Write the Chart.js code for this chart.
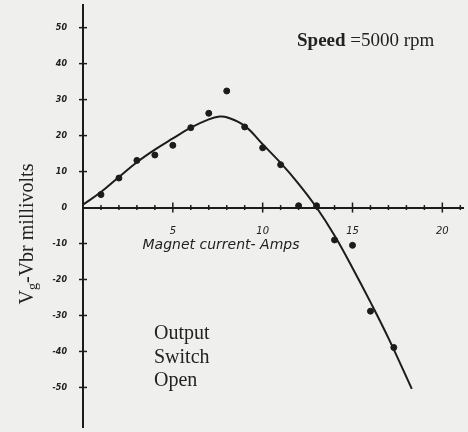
<!DOCTYPE html>
<html>
<head>
<meta charset="utf-8">
<script src="https://cdn.jsdelivr.net/npm/chart.js@4/dist/chart.umd.min.js"></script>
<style>
  html, body { margin: 0; padding: 0; background: #efefed; }
  #wrap { width: 468px; height: 432px; }
</style>
</head>
<body>
<div id="wrap"><canvas id="chart" width="468" height="432"></canvas></div>
<script>
// measured points (magnet current in amps, Vg - Vbr in millivolts)
const pointAmps = [1, 2, 3, 4, 5, 6, 7, 8, 9, 10, 11, 12, 13, 14, 15, 16, 17.3];
const pointMv = [3.6, 8.2, 13.1, 14.6, 17.3, 22.2, 26.2, 32.4, 22.4, 16.6, 11.9, 0.5, 0.5, -9, -10.5, -28.8, -38.9];

// hand drawn fitted curve
const curveAmps = [0, 1, 2, 3, 4, 5, 6, 7, 7.6, 8, 9, 10, 11, 12, 13, 14, 15, 16, 17, 18.3];
const curveMv = [0.8, 4.3, 8.5, 12.6, 16.1, 19.2, 22.2, 24.5, 25.3, 25.1, 22.7, 17.6, 12.4, 6.6, 0, -7.8, -16.8, -26.3, -36.3, -50.4];

// y tick values that carry a mark and a label
const yTickValues = [-50, -40, -30, -20, -10, 0, 10, 20, 30, 40, 50];

const xMin = 0, xMax = 21.15;
const yMin = -61, yMax = 56.3;
const ink = '#1c1c1c';

const toXY = (xs, ys) => xs.map((x, i) => ({ x: x, y: ys[i] }));

const paperAndNotes = {
  id: 'paperAndNotes',
  beforeDraw(chart) {
    const ctx = chart.ctx;
    ctx.save();
    ctx.fillStyle = '#efefed';
    ctx.fillRect(0, 0, chart.width, chart.height);
    ctx.restore();
  },
  afterDraw(chart) {
    const ctx = chart.ctx;
    const xs = chart.scales.x, ys = chart.scales.y;
    const x0 = xs.getPixelForValue(0);
    const y0 = ys.getPixelForValue(0);
    ctx.save();
    ctx.strokeStyle = ink;
    ctx.lineWidth = 1.5;
    // crossing tick marks on the y axis
    ys.ticks.forEach(t => {
      if (t.value === 0) return;
      const py = ys.getPixelForValue(t.value);
      ctx.beginPath();
      ctx.moveTo(x0 - 4, py);
      ctx.lineTo(x0 + 4, py);
      ctx.stroke();
    });
    // crossing tick marks on the x axis
    xs.ticks.forEach(t => {
      if (t.value === 0) return;
      const px = xs.getPixelForValue(t.value);
      const len = t.value % 5 === 0 ? 5 : 2.5;
      ctx.beginPath();
      ctx.moveTo(px, y0 - len);
      ctx.lineTo(px, y0 + len);
      ctx.stroke();
    });

    ctx.fillStyle = '#222';
    ctx.textBaseline = 'alphabetic';
    // speed note
    ctx.textAlign = 'left';
    ctx.font = 'bold 19px "Liberation Serif"';
    ctx.fillText('Speed', 297, 46);
    const w1 = ctx.measureText('Speed').width;
    ctx.font = '19px "Liberation Serif"';
    ctx.fillText(' =5000 rpm', 297 + w1, 46);

    // switch note
    ctx.font = '20px "Liberation Serif"';
    ctx.fillText('Output', 154, 339);
    ctx.fillText('Switch', 154, 363);
    ctx.fillText('Open', 154, 386);

    // x axis title, written under the axis
    ctx.textAlign = 'center';
    ctx.font = 'italic 14px "DejaVu Sans"';
    ctx.fillText('Magnet current- Amps', 221, 249);

    // y axis title with subscript g
    ctx.translate(33, 234);
    ctx.rotate(-Math.PI / 2);
    ctx.textAlign = 'left';
    const big = '20px "Liberation Serif"', small = '14px "Liberation Serif"';
    ctx.font = big;
    const wV = ctx.measureText('V').width;
    const rest = '-Vbr millivolts';
    const wR = ctx.measureText(rest).width;
    ctx.font = small;
    const wg = ctx.measureText('g').width;
    let sx = -(wV + wg + wR) / 2;
    ctx.font = big;
    ctx.fillText('V', sx, 0);
    sx += wV;
    ctx.font = small;
    ctx.fillText('g', sx, 4);
    sx += wg;
    ctx.font = big;
    ctx.fillText(rest, sx, 0);
    ctx.restore();
  }
};

new Chart(document.getElementById('chart'), {
  type: 'scatter',
  data: {
    datasets: [
      {
        type: 'line',
        label: 'curve',
        data: toXY(curveAmps, curveMv),
        borderColor: ink,
        borderWidth: 2,
        pointRadius: 0,
        tension: 0.4,
        fill: false
      },
      {
        label: 'measured',
        data: toXY(pointAmps, pointMv),
        backgroundColor: ink,
        borderColor: ink,
        pointRadius: 3
      }
    ]
  },
  plugins: [paperAndNotes],
  options: {
    responsive: false,
    animation: false,
    layout: { padding: { top: 5, left: 0, right: 0, bottom: 0 } },
    plugins: {
      legend: { display: false },
      tooltip: { enabled: false }
    },
    scales: {
      x: {
        type: 'linear',
        position: { y: 0 },
        min: xMin,
        max: xMax,
        grid: { display: false },
        border: { display: true, color: ink, width: 2 },
        ticks: {
          stepSize: 1,
          includeBounds: false,
          autoSkip: false,
          maxRotation: 0,
          padding: 10,
          color: '#222',
          font: { family: 'DejaVu Sans', style: 'italic', size: 10 },
          callback: v => (v > 0 && v % 5 === 0 ? String(v) : '')
        },
        afterFit(s) { s.paddingLeft = 0; s.paddingRight = 0; }
      },
      y: {
        type: 'linear',
        min: yMin,
        max: yMax,
        grid: { display: false },
        border: { display: true, color: ink, width: 2 },
        afterBuildTicks(s) { s.ticks = yTickValues.map(v => ({ value: v })); },
        ticks: {
          padding: 8,
          color: '#222',
          font: { family: 'DejaVu Sans', style: 'italic', weight: 'bold', size: 8 },
          callback: v => String(v)
        },
        afterFit(s) { s.width = 83; s.paddingTop = 0; s.paddingBottom = 0; }
      }
    }
  }
});
</script>
</body>
</html>
